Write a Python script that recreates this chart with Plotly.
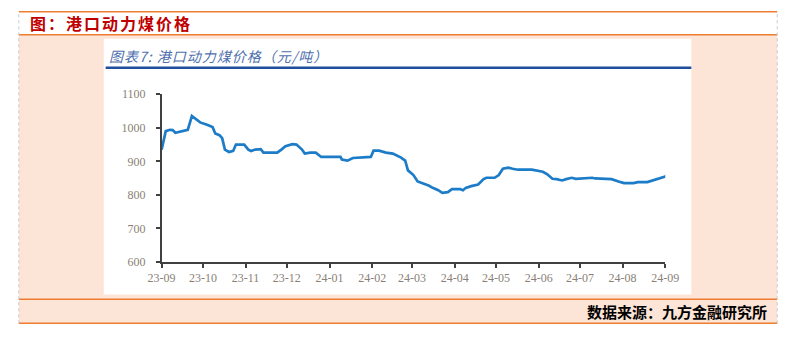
import plotly.graph_objects as go

W, H = 797, 338

dates = [
    "2023-09-01", "2023-09-04", "2023-09-07", "2023-09-09", "2023-09-11", "2023-09-20",
    "2023-09-23", "2023-09-26", "2023-09-29", "2023-10-04", "2023-10-08", "2023-10-10",
    "2023-10-13", "2023-10-15", "2023-10-17", "2023-10-20", "2023-10-23", "2023-10-25",
    "2023-10-28", "2023-10-31", "2023-11-03", "2023-11-05", "2023-11-08", "2023-11-12",
    "2023-11-14", "2023-11-24", "2023-11-27", "2023-11-30", "2023-12-05", "2023-12-08",
    "2023-12-12", "2023-12-14", "2023-12-18", "2023-12-22", "2023-12-26", "2024-01-09",
    "2024-01-10", "2024-01-14", "2024-01-18", "2024-01-31", "2024-02-02", "2024-02-06",
    "2024-02-11", "2024-02-16", "2024-02-22", "2024-02-25", "2024-02-27", "2024-03-02",
    "2024-03-05", "2024-03-09", "2024-03-13", "2024-03-16", "2024-03-20", "2024-03-23",
    "2024-03-27", "2024-03-30", "2024-04-05", "2024-04-07", "2024-04-09", "2024-04-13",
    "2024-04-18", "2024-04-22", "2024-04-24", "2024-04-30", "2024-05-03", "2024-05-06",
    "2024-05-10", "2024-05-13", "2024-05-17", "2024-05-27", "2024-05-31", "2024-06-04",
    "2024-06-07", "2024-06-11", "2024-06-14", "2024-06-18", "2024-06-21", "2024-06-25",
    "2024-06-28", "2024-07-04", "2024-07-06", "2024-07-10", "2024-07-12", "2024-07-19",
    "2024-07-24", "2024-07-29", "2024-08-02", "2024-08-09", "2024-08-12", "2024-08-19",
    "2024-08-22", "2024-08-25", "2024-08-29", "2024-09-01", "2024-09-03",
]
prices = [
    935, 990, 994, 993, 985, 994,
    1035, 1026, 1016, 1009, 1002, 983,
    978, 969, 935, 928, 931, 950,
    951, 950, 935, 931, 935, 936,
    926, 926, 935, 945, 951, 950,
    935, 923, 926, 926, 913, 913,
    905, 902, 910, 913, 932, 932,
    926, 923, 911, 902, 873, 859,
    840, 835, 828, 821, 814, 806,
    808, 817, 817, 814, 821, 826,
    831, 847, 851, 851, 859, 878,
    881, 878, 875, 875, 871, 869,
    862, 848, 847, 843, 847, 851,
    848, 849, 851, 851, 849, 849,
    847, 840, 835, 835, 838, 838,
    842, 848, 853, 855, 861,
]

tick_dates = ["2023-09-01", "2023-10-01", "2023-11-01", "2023-12-01", "2024-01-01",
              "2024-02-01", "2024-03-01", "2024-04-01", "2024-05-01", "2024-06-01",
              "2024-07-01", "2024-08-01", "2024-09-01"]
tick_labels = ["23-09", "23-10", "23-11", "23-12", "24-01", "24-02", "24-03",
               "24-04", "24-05", "24-06", "24-07", "24-08", "24-09"]
y_ticks = [600, 700, 800, 900, 1000, 1100]

outer_title = "图：港口动力煤价格"
chart_title = "图表7: 港口动力煤价格（元/吨）"
source_text = "数据来源：九方金融研究所"


def fx(x):
    return x / W


def fy(y):
    return 1 - y / H


fig = go.Figure()
fig.add_trace(go.Scatter(
    x=dates, y=prices, mode="lines",
    line=dict(color="#1c7cc8", width=2.7),
    hoverinfo="skip", showlegend=False,
))

orange = "#ed7d31"
peach = "#fce4d6"
shapes = [
    dict(type="rect", xref="paper", yref="paper", x0=fx(5), x1=fx(791), y0=fy(330), y1=fy(29),
         fillcolor=peach, line=dict(width=0), layer="below"),
    dict(type="rect", xref="paper", yref="paper", x0=fx(93), x1=fx(702), y0=fy(300), y1=fy(33),
         fillcolor="white", line=dict(width=0), layer="below"),
    dict(type="line", xref="paper", yref="paper", x0=fx(5), x1=fx(791), y0=fy(5), y1=fy(5),
         line=dict(color=orange, width=1.5)),
    dict(type="line", xref="paper", yref="paper", x0=fx(5), x1=fx(791), y0=fy(29), y1=fy(29),
         line=dict(color=orange, width=1.5)),
    dict(type="line", xref="paper", yref="paper", x0=fx(5), x1=fx(791), y0=fy(305), y1=fy(305),
         line=dict(color=orange, width=1.5)),
    dict(type="line", xref="paper", yref="paper", x0=fx(5), x1=fx(791), y0=fy(330), y1=fy(330),
         line=dict(color=orange, width=1.5)),
    dict(type="line", xref="paper", yref="paper", x0=fx(5), x1=fx(5), y0=fy(330), y1=fy(5),
         line=dict(color="#c8c8c8", width=1, dash="dot")),
    dict(type="line", xref="paper", yref="paper", x0=fx(791), x1=fx(791), y0=fy(330), y1=fy(5),
         line=dict(color="#c8c8c8", width=1, dash="dot")),
    dict(type="line", xref="paper", yref="paper", x0=fx(95), x1=fx(702), y0=fy(63.5), y1=fy(63.5),
         line=dict(color="#1f4e9c", width=2.5)),
]

annotations = [
    dict(text=f"<span style='letter-spacing:2px'><b>{outer_title}</b></span>",
         xref="paper", yref="paper", x=fx(14), y=fy(17),
         xanchor="left", yanchor="middle", showarrow=False,
         font=dict(family="Noto Sans CJK SC", size=16, color="#c00000")),
    dict(text=f"<span style='letter-spacing:1px'><i>{chart_title}</i></span>",
         xref="paper", yref="paper", x=fx(96), y=fy(51),
         xanchor="left", yanchor="middle", showarrow=False,
         font=dict(family="Noto Sans CJK SC", size=14, color="#4f6fae")),
    dict(text=f"<b>{source_text}</b>", xref="paper", yref="paper", x=fx(783), y=fy(318),
         xanchor="right", yanchor="middle", showarrow=False,
         font=dict(family="Noto Sans CJK SC", size=15, color="#000000")),
]

axis_font = dict(family="Liberation Serif", size=12, color="#8a7f78")

fig.update_layout(
    width=W, height=H,
    margin=dict(l=0, r=0, t=0, b=0),
    paper_bgcolor="white",
    plot_bgcolor="rgba(0,0,0,0)",
    shapes=shapes,
    annotations=annotations,
    xaxis=dict(
        type="date",
        domain=[fx(153), fx(675)],
        range=["2023-09-01", "2024-09-01"],
        tickvals=tick_dates, ticktext=tick_labels,
        showline=True, linecolor="#404040", linewidth=1.5,
        ticks="outside", ticklen=4, tickcolor="#404040", tickwidth=1.5,
        showgrid=False, zeroline=False,
        tickfont=axis_font,
        fixedrange=True,
    ),
    yaxis=dict(
        domain=[fy(266), fy(91)],
        range=[600, 1100],
        tickvals=y_ticks,
        showline=True, linecolor="#404040", linewidth=1.5,
        ticks="outside", ticklen=4, tickcolor="#404040", tickwidth=1.5,
        showgrid=False, zeroline=False,
        tickfont=axis_font,
        ticklabelstandoff=8,
        fixedrange=True,
    ),
    showlegend=False,
)

fig.write_html("out.html", config={"displayModeBar": False})
